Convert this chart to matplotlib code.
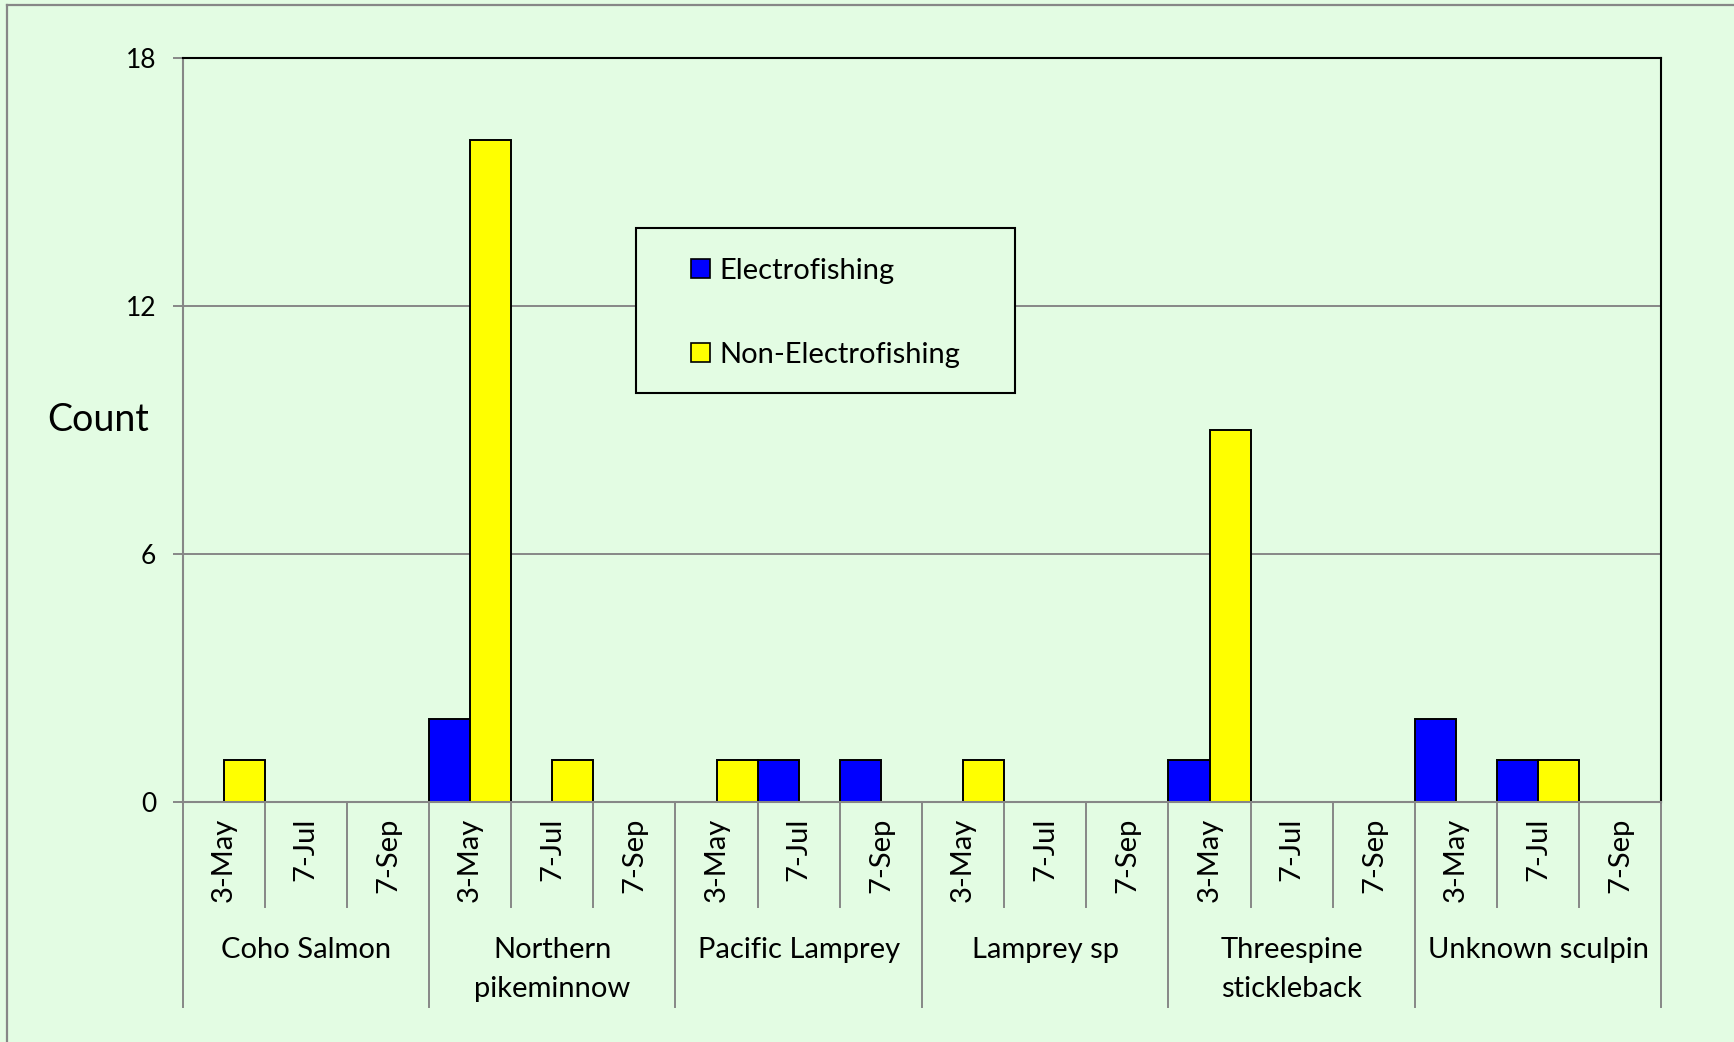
import matplotlib
matplotlib.use('Agg')
import matplotlib.pyplot as plt
from matplotlib.patches import Patch, Rectangle
from matplotlib.lines import Line2D
import matplotlib.transforms as mtransforms
import numpy as np

# 各鱼种、各采样日期的数量
species = ['Coho Salmon', 'Northern\npikeminnow', 'Pacific Lamprey',
           'Lamprey sp', 'Threespine\nstickleback', 'Unknown sculpin']
dates = ['3-May', '7-Jul', '7-Sep']
electro = [0, 0, 0,  2, 0, 0,  0, 1, 1,  0, 0, 0,  1, 0, 0,  2, 1, 0]
non_electro = [1, 0, 0,  16, 1, 0,  1, 0, 0,  1, 0, 0,  9, 0, 0,  0, 1, 0]
yticks = [0, 6, 12, 18]

bg = '#E3FCE3'
gray = '#878787'
plt.rcParams['font.family'] = ['Lato', 'DejaVu Sans']

W, H = 1734, 1042
fig = plt.figure(figsize=(W / 100, H / 100), dpi=100, facecolor=bg)
left, right, top, bottom = 182.5, 1661.5, 57.5, 801.8
ax = fig.add_axes([left / W, 1 - bottom / H, (right - left) / W, (bottom - top) / H])
ax.set_facecolor(bg)

n = len(species) * len(dates)
x = np.arange(n)
e = np.array(electro)
ne = np.array(non_electro)
me = e > 0
mn = ne > 0
ax.bar(x[me] - 0.25, e[me], width=0.5, color='#0000FF', edgecolor='black', linewidth=1.4, zorder=3)
ax.bar(x[mn] + 0.25, ne[mn], width=0.5, color='#FFFF00', edgecolor='black', linewidth=1.4, zorder=3)

ax.set_xlim(-0.5, n - 0.5)
ax.set_ylim(0, 18)
ax.set_yticks(yticks)
ax.set_yticklabels([str(v) for v in yticks], fontsize=19)
ax.tick_params(axis='y', length=7, width=1.4, color=gray, pad=12)
ax.set_xticks([])
for yv in yticks[1:-1]:
    ax.axhline(yv, color=gray, linewidth=1.4, zorder=1)

ax.spines['left'].set_color(gray)
ax.spines['bottom'].set_color(gray)
ax.spines['left'].set_linewidth(1.5)
ax.spines['bottom'].set_linewidth(1.5)
ax.spines['bottom'].set_zorder(4)
ax.spines['top'].set_color('black')
ax.spines['right'].set_color('black')
ax.spines['top'].set_linewidth(1.5)
ax.spines['right'].set_linewidth(1.5)

# 两级分类轴：日期 + 鱼种
tr = mtransforms.blended_transform_factory(ax.transData, ax.transAxes)
h = bottom - top
date_drop = -(906.7 - bottom) / h
sp_drop = -(1006.7 - bottom) / h
for i in range(n + 1):
    xb = i - 0.5
    y1 = sp_drop if i % 3 == 0 else date_drop
    ax.plot([xb, xb], [0, y1], color=gray, linewidth=1.4, transform=tr, clip_on=False)
for i in range(n):
    ax.text(i, -(818 - bottom) / h, dates[i % 3], rotation=90, ha='center', va='top',
            fontsize=21, transform=tr)
for k, name in enumerate(species):
    ax.text(3 * k + 1, -(937 - bottom) / h, name, ha='center', va='top',
            fontsize=21, linespacing=1.6, transform=tr)

# 图例
ax.add_patch(Rectangle((0.3067, 0.549), 0.2563, 0.222, transform=ax.transAxes,
                       facecolor=bg, edgecolor='black', linewidth=1.5, zorder=5))
handles = [Patch(facecolor='#0000FF', edgecolor='black', linewidth=1.2),
           Patch(facecolor='#FFFF00', edgecolor='black', linewidth=1.2)]
leg = ax.legend(handles, ['Electrofishing', 'Non-Electrofishing'], loc='center',
                bbox_to_anchor=(0.4349, 0.657), frameon=False, fontsize=21,
                handlelength=0.65, handleheight=0.65, handletextpad=0.3,
                labelspacing=2.0)
leg.set_zorder(6)

fig.text(98 / W, 1 - 420 / H, 'Count', fontsize=27, ha='center', va='center')

# 外框（左、上）
fig.add_artist(Line2D([7 / W, 7 / W], [0, 1 - 5 / H], color=gray, linewidth=1.6))
fig.add_artist(Line2D([7 / W, 1], [1 - 5 / H, 1 - 5 / H], color=gray, linewidth=1.6))

fig.savefig('out.png', dpi=100, facecolor=bg)
